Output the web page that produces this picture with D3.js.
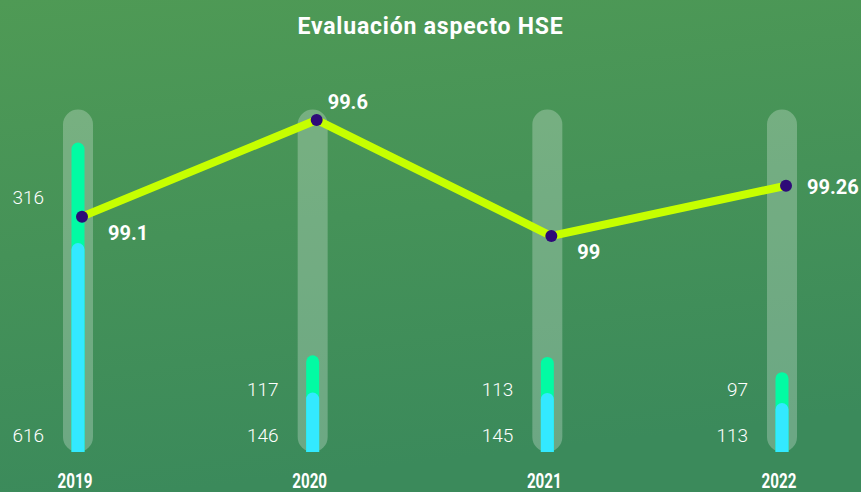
<!DOCTYPE html>
<html>
<head>
<meta charset="utf-8">
<script src="https://cdn.jsdelivr.net/npm/d3@7"></script>
<style>
  html, body { margin: 0; padding: 0; }
  body { width: 861px; height: 492px; overflow: hidden; }
</style>
</head>
<body>
<div id="chart"></div>
<script>

var years = ["2019", "2020", "2021", "2022"];
var cyanValues = [616, 146, 145, 113];
var greenValues = [316, 117, 113, 97];
var scoreValues = [99.1, 99.6, 99, 99.26];
var scoreLabels = ["99.1", "99.6", "99", "99.26"];
var scoreLabelSide = ["below", "above", "below", "right"];

var width = 861, height = 492;
var bottom = 452;
var cap = 13;

var svg = d3.select("#chart").append("svg")
    .attr("width", width)
    .attr("height", height);

var defs = svg.append("defs");
var grad = defs.append("linearGradient")
    .attr("id", "bg")
    .attr("x1", "0%").attr("y1", "0%")
    .attr("x2", "20%").attr("y2", "100%");
grad.append("stop").attr("offset", "0%").attr("stop-color", "#4f9a55");
grad.append("stop").attr("offset", "100%").attr("stop-color", "#3b8a5b");

defs.append("clipPath").attr("id", "plotclip")
    .append("rect").attr("x", 0).attr("y", 0).attr("width", width).attr("height", bottom);

svg.append("rect")
    .attr("width", width)
    .attr("height", height)
    .attr("fill", "url(#bg)");

// title
svg.append("text")
    .attr("x", width / 2)
    .attr("y", 34)
    .attr("text-anchor", "middle")
    .attr("fill", "#fff")
    .attr("font-family", "Roboto, sans-serif")
    .attr("font-weight", "bold")
    .attr("font-size", 23)
    .attr("letter-spacing", 0.8)
    .text("Evaluación aspecto HSE");

var xBar = d3.scalePoint()
    .domain(years)
    .range([78, 782]);

var xLine = d3.scalePoint()
    .domain(years)
    .range([82, 786]);

// top of each bar (rounded cap included), bottom fixed at 452
var yBar = d3.scaleLinear()
    .domain([0, 1000])
    .range([bottom - cap, bottom - cap - 318]);

var yLine = d3.scaleLinear()
    .domain([99, 99.6])
    .range([236, 120]);

// background tracks
svg.append("g")
    .selectAll("rect")
    .data(years)
    .enter()
    .append("rect")
    .attr("x", d => xBar(d) - 15)
    .attr("y", yBar(1036))
    .attr("width", 30)
    .attr("height", bottom - yBar(1036))
    .attr("rx", 15)
    .attr("fill", "rgba(255,255,255,0.25)");

var bars = svg.append("g").attr("clip-path", "url(#plotclip)");

// green = total, drawn first
bars.selectAll(".green")
    .data(years)
    .enter()
    .append("rect")
    .attr("x", d => xBar(d) - 6.5)
    .attr("y", (d, i) => yBar(cyanValues[i] + greenValues[i]))
    .attr("width", 13)
    .attr("height", (d, i) => bottom + 10 - yBar(cyanValues[i] + greenValues[i]))
    .attr("rx", 6.5)
    .attr("fill", "#02fba3");

bars.selectAll(".cyan")
    .data(years)
    .enter()
    .append("rect")
    .attr("x", d => xBar(d) - 6.5)
    .attr("y", (d, i) => yBar(cyanValues[i]))
    .attr("width", 13)
    .attr("height", (d, i) => bottom + 10 - yBar(cyanValues[i]))
    .attr("rx", 6.5)
    .attr("fill", "#33e9ff");

// bar value labels
var labelFont = "Roboto, sans-serif";
svg.append("g")
    .selectAll("text")
    .data(years)
    .enter()
    .append("text")
    .attr("x", d => xBar(d) - 34)
    .attr("y", 442)
    .attr("text-anchor", "end")
    .attr("fill", "#fff")
    .attr("font-family", labelFont)
    .attr("font-weight", 300)
    .attr("font-size", 19)
    .text((d, i) => cyanValues[i]);

svg.append("g")
    .selectAll("text")
    .data(years)
    .enter()
    .append("text")
    .attr("x", d => xBar(d) - 34)
    .attr("y", (d, i) => {
        var top = yBar(cyanValues[i] + greenValues[i]);
        var base = yBar(cyanValues[i]);
        // short segments: label sits just above the bottom label
        if (base - top < 60) return 442 - 46;
        return (top + base) / 2 + 11;
    })
    .attr("text-anchor", "end")
    .attr("fill", "#fff")
    .attr("font-family", labelFont)
    .attr("font-weight", 300)
    .attr("font-size", 19)
    .text((d, i) => greenValues[i]);

// line
var line = d3.line()
    .x((d, i) => xLine(years[i]))
    .y(d => yLine(d));

svg.append("path")
    .datum(scoreValues)
    .attr("d", line)
    .attr("fill", "none")
    .attr("stroke", "#c6ff00")
    .attr("stroke-width", 8)
    .attr("stroke-linejoin", "miter");

svg.append("g")
    .selectAll("circle")
    .data(scoreValues)
    .enter()
    .append("circle")
    .attr("cx", (d, i) => xLine(years[i]))
    .attr("cy", d => yLine(d))
    .attr("r", 6)
    .attr("fill", "#2e0a78");

var offsets = {
    below: [26, 23],
    above: [11, -11],
    right: [21, 8]
};

svg.append("g")
    .selectAll("text")
    .data(scoreValues)
    .enter()
    .append("text")
    .attr("x", (d, i) => xLine(years[i]) + offsets[scoreLabelSide[i]][0])
    .attr("y", (d, i) => yLine(d) + offsets[scoreLabelSide[i]][1])
    .attr("fill", "#fff")
    .attr("font-family", labelFont)
    .attr("font-weight", "bold")
    .attr("font-size", 20)
    .text((d, i) => scoreLabels[i]);

// year axis labels (condensed look)
svg.append("g")
    .selectAll("text")
    .data(years)
    .enter()
    .append("text")
    .attr("transform", d => "translate(" + (xBar(d) - 3) + ",488) scale(0.76,1)")
    .attr("text-anchor", "middle")
    .attr("fill", "#fff")
    .attr("font-family", "Roboto, sans-serif")
    .attr("font-weight", "bold")
    .attr("font-size", 20)
    .text(d => d);

</script>
</body>
</html>
